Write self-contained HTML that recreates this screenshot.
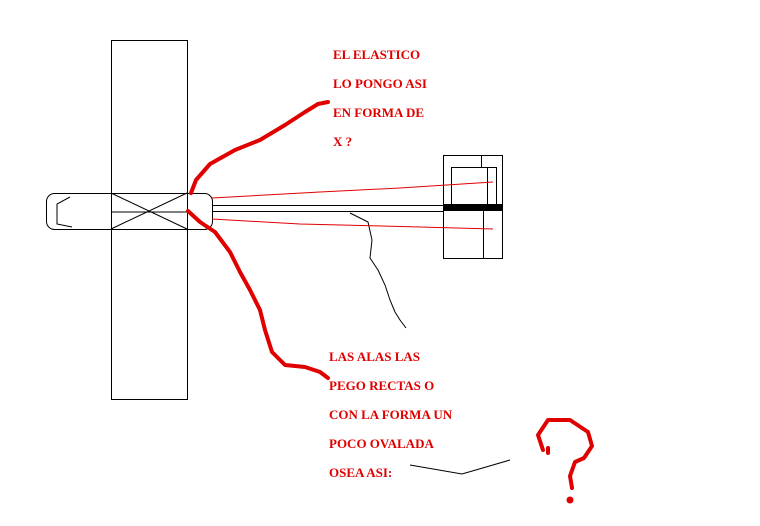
<!DOCTYPE html>
<html><head><style>
body{margin:0;background:#fff;width:760px;height:526px;overflow:hidden;position:relative}
.t{position:absolute;font-family:"Liberation Serif",serif;font-size:13px;font-weight:bold;color:#e00000;white-space:nowrap}
</style></head><body>
<svg width="760" height="526" style="position:absolute;left:0;top:0">
<g fill="none" stroke="#000" stroke-width="1">
<rect x="111.5" y="40.5" width="76" height="359"/>
<rect x="46.5" y="193.5" width="166" height="36" rx="8"/>
<path d="M111 212H187M111 193L187 229M111 229L187 193"/>
<path d="M70 197L57 204V224L72 227"/>
<path d="M212 205.5H443M212 211.5H443"/>
<rect x="443.5" y="155.5" width="59" height="103"/>
<rect x="451.5" y="167.5" width="45" height="37"/>
<path d="M481.5 155V167M487.5 167V204M483.5 211V258"/>
<path d="M350 213 L368 222 L372 240 L370 258 L378 270 L385 285 L390 300 L395 312 L400 320 L406 328"/>
<path d="M410 465 L462 474 L510 460"/>
</g>
<rect x="443" y="204" width="60" height="7" fill="#000"/>
<g fill="none" stroke="#e00000" stroke-width="1">
<path d="M212 198 L320 192 L400 188 L493 182"/>
<path d="M212 219 L300 224 L420 227 L493 229"/>
</g>
<g fill="none" stroke="#e00000" stroke-width="4" stroke-linecap="round" stroke-linejoin="round">
<path d="M191 193 L196 180 L210 164 L235 150 L260 140 L285 125 L305 112 L318 104 L328 102"/>
<path d="M188 211 L200 222 L215 232 L230 252 L240 272 L250 290 L260 310 L265 330 L272 352 L285 365 L305 367 L320 372 L328 378"/>
<path d="M543 450 L538 435 L548 420 L570 420 L588 432 L592 446 L584 458 L575 462 L570 476 L572 488"/>
<path d="M548 448 L548 453"/>
<circle cx="570" cy="500" r="1.5" fill="#e00000"/>
</g>
</svg>
<div class="t" style="left:333px;top:47px">EL ELASTICO</div>
<div class="t" style="left:333px;top:76px">LO PONGO ASI</div>
<div class="t" style="left:333px;top:105px">EN FORMA DE</div>
<div class="t" style="left:333px;top:134px">X ?</div>
<div class="t" style="left:329px;top:349px">LAS ALAS LAS</div>
<div class="t" style="left:329px;top:378px">PEGO RECTAS O</div>
<div class="t" style="left:329px;top:407px">CON LA FORMA UN</div>
<div class="t" style="left:329px;top:436px">POCO OVALADA</div>
<div class="t" style="left:329px;top:465px">OSEA ASI:</div>
</body></html>
